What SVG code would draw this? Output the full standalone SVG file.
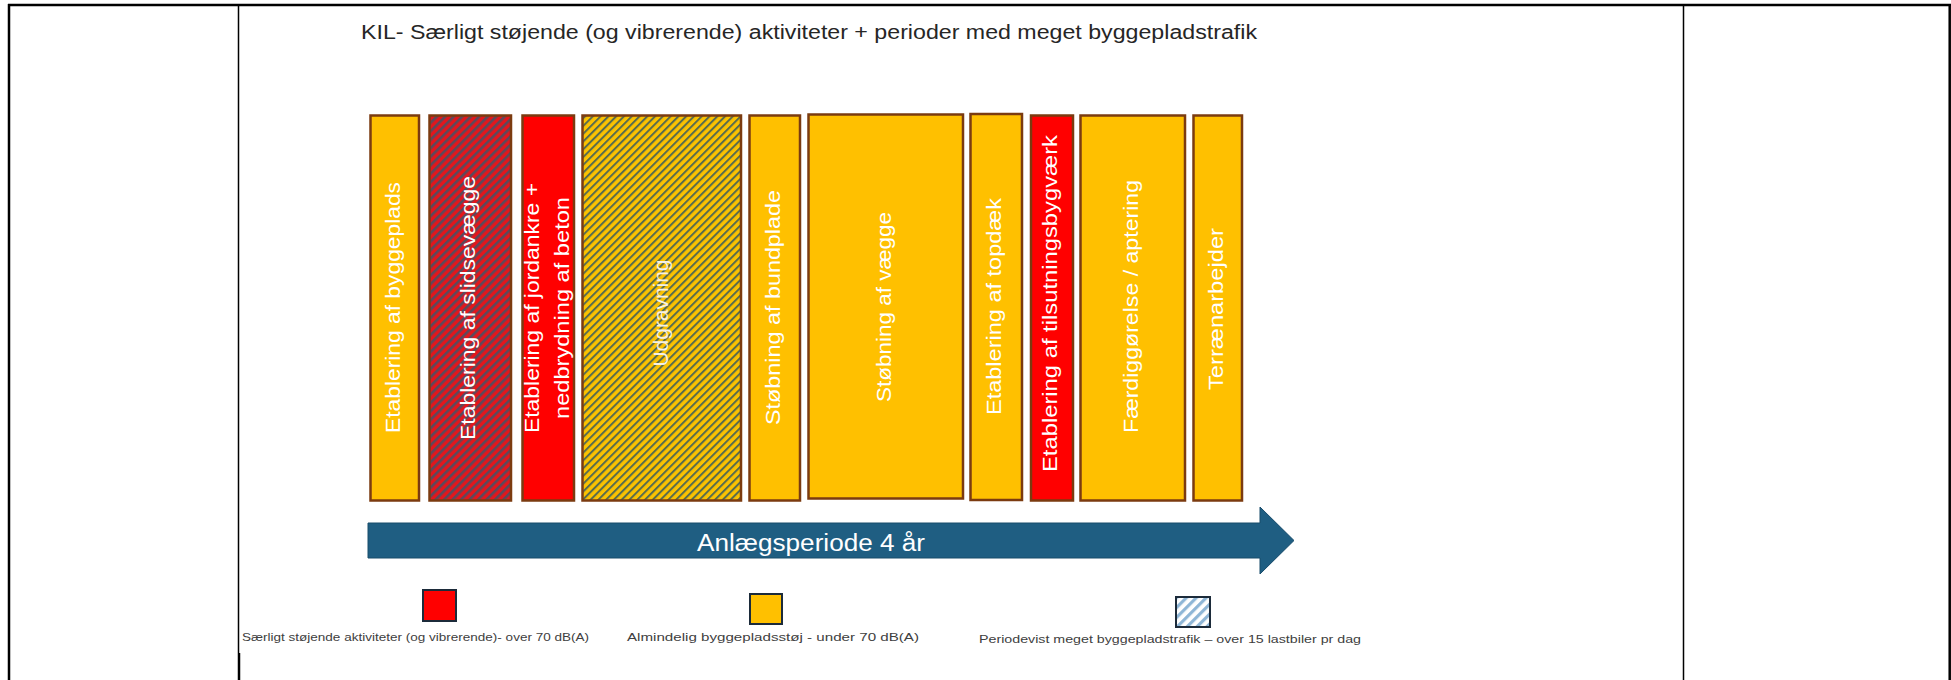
<svg xmlns="http://www.w3.org/2000/svg" width="1951" height="680" viewBox="0 0 1951 680">
<defs>
<style>
.frame{stroke:#000;fill:none}
.bar{stroke:#7B3B10;stroke-width:2.5}
.yel{fill:#FFC000}
.red{fill:#FF0000}
.lbl{font-family:"Liberation Sans",Arial,sans-serif;font-size:20px;fill:#FFFFFF;text-anchor:middle}
.title{font-family:"Liberation Sans",Arial,sans-serif;font-size:19.5px;fill:#262626}
.leg{font-family:"Liberation Sans",Arial,sans-serif;font-size:11.5px;fill:#404040}
.legbox{stroke:#1C2B3A;stroke-width:2}
</style>
<pattern id="hatchRed" patternUnits="userSpaceOnUse" width="6" height="6" patternTransform="rotate(45)">
<rect width="6" height="6" fill="#E3161C"/>
<rect width="2.6" height="6" fill="#5A4A5C"/>
</pattern>
<pattern id="hatchYel" patternUnits="userSpaceOnUse" width="5.5" height="5.5" patternTransform="rotate(45)">
<rect width="5.5" height="5.5" fill="#FBC200"/>
<rect width="2" height="5.5" fill="#566B50"/>
</pattern>
<pattern id="hatchBlue" patternUnits="userSpaceOnUse" width="7" height="7" patternTransform="rotate(45)">
<rect width="7" height="7" fill="#FFFFFF"/>
<rect width="3.2" height="7" fill="#8FB6D6"/>
</pattern>
</defs>

<g id="frame">
<line class="frame" x1="8" y1="5" x2="1951" y2="5" stroke-width="2.5"/>
<line class="frame" x1="9" y1="4" x2="9" y2="680" stroke-width="2.5"/>
<line class="frame" x1="1949.7" y1="4" x2="1949.7" y2="680" stroke-width="2.5"/>
<line class="frame" x1="238.5" y1="5" x2="238.5" y2="653" stroke-width="1.5"/>
<line class="frame" x1="239" y1="653" x2="239" y2="680" stroke-width="2.5"/>
<line class="frame" x1="1683.5" y1="5" x2="1683.5" y2="680" stroke-width="1.5"/>
</g>

<g id="title">
<text class="title" x="361" y="39" textLength="896" lengthAdjust="spacingAndGlyphs">KIL- Særligt støjende (og vibrerende) aktiviteter + perioder med meget byggepladstrafik</text>
</g>

<g id="n1">
<rect class="bar yel" x="370.5" y="115.5" width="48.5" height="385"/>
<text class="lbl" transform="translate(394.5,307.5) rotate(-90)" y="5" textLength="251" lengthAdjust="spacingAndGlyphs">Etablering af byggeplads</text>
</g>
<g id="n2">
<rect class="bar" fill="url(#hatchRed)" x="429.5" y="115.5" width="81.5" height="385"/>
<text class="lbl" transform="translate(470,308) rotate(-90)" y="5" textLength="264" lengthAdjust="spacingAndGlyphs">Etablering af slidsevægge</text>
</g>
<g id="n3">
<rect class="bar red" x="522.5" y="115.5" width="51.5" height="385"/>
<text class="lbl" transform="translate(539,308) rotate(-90)" textLength="250" lengthAdjust="spacingAndGlyphs">Etablering af jordankre +</text>
<text class="lbl" transform="translate(569,308) rotate(-90)" textLength="222" lengthAdjust="spacingAndGlyphs">nedbrydning af beton</text>
</g>
<g id="n4">
<rect class="bar" fill="url(#hatchYel)" x="582.5" y="115.5" width="158.5" height="385"/>
<text class="lbl" transform="translate(663,313) rotate(-90)" y="5" textLength="107" lengthAdjust="spacingAndGlyphs" style="fill:#F4F1E6">Udgravning</text>
</g>
<g id="n5">
<rect class="bar yel" x="749.5" y="115.5" width="50.5" height="385"/>
<text class="lbl" transform="translate(774.5,307.5) rotate(-90)" y="5" textLength="235" lengthAdjust="spacingAndGlyphs">Støbning af bundplade</text>
</g>
<g id="n6">
<rect class="bar yel" x="808.5" y="114.5" width="154.5" height="384"/>
<text class="lbl" transform="translate(886,307) rotate(-90)" y="5" textLength="190" lengthAdjust="spacingAndGlyphs">Støbning af vægge</text>
</g>
<g id="n7">
<rect class="bar yel" x="970.5" y="114" width="51.5" height="386"/>
<text class="lbl" transform="translate(996,306.5) rotate(-90)" y="5" textLength="217" lengthAdjust="spacingAndGlyphs">Etablering af topdæk</text>
</g>
<g id="n8">
<rect class="bar red" x="1031" y="115.5" width="42" height="385"/>
<text class="lbl" transform="translate(1052,303.5) rotate(-90)" y="5" textLength="337" lengthAdjust="spacingAndGlyphs">Etablering af tilsutningsbygværk</text>
</g>
<g id="n9">
<rect class="bar yel" x="1080.5" y="115.5" width="104.5" height="385"/>
<text class="lbl" transform="translate(1133,306.5) rotate(-90)" y="5" textLength="253" lengthAdjust="spacingAndGlyphs">Færdiggørelse / aptering</text>
</g>
<g id="n10">
<rect class="bar yel" x="1193.5" y="115.5" width="48.5" height="385"/>
<text class="lbl" transform="translate(1217.5,309) rotate(-90)" y="5" textLength="162" lengthAdjust="spacingAndGlyphs">Terrænarbejder</text>
</g>

<g id="connectors">
<polygon points="368,523 1260,523 1260,507 1294,540.5 1260,574 1260,558 368,558" fill="#1F5E82" stroke="#184C6B" stroke-width="1"/>
<text x="697" y="551" font-family="'Liberation Sans',Arial,sans-serif" font-size="23" fill="#FFFFFF" textLength="228" lengthAdjust="spacingAndGlyphs">Anlægsperiode 4 år</text>
</g>

<g id="legend">
<rect class="legbox red" x="423" y="590" width="33" height="31"/>
<text class="leg" x="242" y="641" textLength="347" lengthAdjust="spacingAndGlyphs">Særligt støjende aktiviteter (og vibrerende)- over 70 dB(A)</text>
<rect class="legbox yel" x="750" y="594" width="32" height="30"/>
<text class="leg" x="627" y="641" textLength="292" lengthAdjust="spacingAndGlyphs">Almindelig byggepladsstøj - under 70 dB(A)</text>
<rect class="legbox" fill="url(#hatchBlue)" x="1176" y="597" width="34" height="30"/>
<text class="leg" x="979" y="643" textLength="382" lengthAdjust="spacingAndGlyphs">Periodevist meget byggepladstrafik – over 15 lastbiler pr dag</text>
</g>
</svg>
